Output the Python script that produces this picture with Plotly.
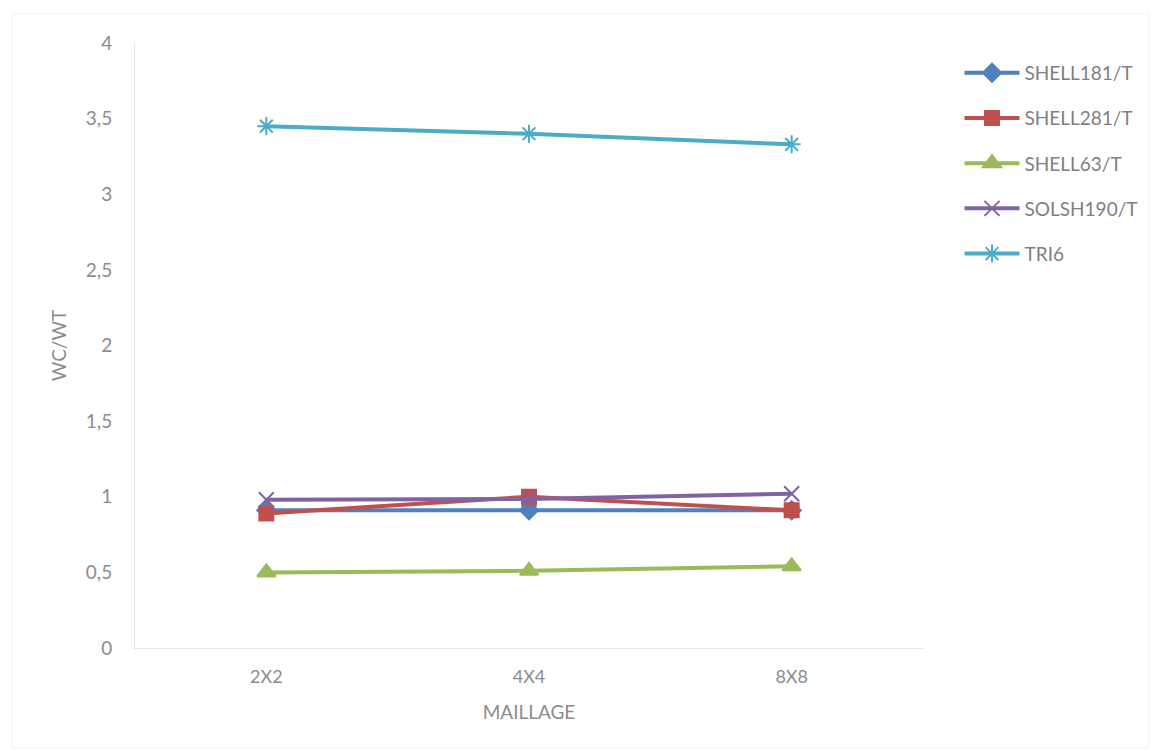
import plotly.graph_objects as go

categories = ["2X2", "4X4", "8X8"]
shell181 = [0.91, 0.91, 0.91]
shell281 = [0.89, 1.00, 0.91]
shell63 = [0.50, 0.51, 0.54]
solsh190 = [0.98, 0.985, 1.02]
tri6 = [3.45, 3.40, 3.33]

series = [
    ("SHELL181/T", shell181, "#4F81BD", "diamond", 14),
    ("SHELL281/T", shell281, "#C0504D", "square", 14),
    ("SHELL63/T", shell63, "#9BBB59", "triangle-up", 16),
    ("SOLSH190/T", solsh190, "#8064A2", "x-thin", 15),
    ("TRI6", tri6, "#4BACC6", "asterisk", 15),
]

fig = go.Figure()
for name, vals, col, sym, sz in series:
    fig.add_trace(go.Scatter(
        x=categories, y=vals, name=name, mode="lines+markers",
        legendgroup=name,
        line=dict(color=col, width=4),
        marker=dict(symbol=sym, size=sz, color=col,
                    line=dict(color=col, width=2)),
    ))

fig.update_layout(
    width=1153, height=751,
    margin=dict(l=135, r=229, t=43, b=103),
    paper_bgcolor="white", plot_bgcolor="white",
    separators=", ",
    font=dict(family="Lato", color="#7f7f7f", size=17),
    showlegend=True,
    legend=dict(x=1.045, y=0.982, xanchor="left", yanchor="top",
                font=dict(size=19, color="#7f7f7f"),
                itemwidth=55, tracegroupgap=17.5, bgcolor="rgba(0,0,0,0)"),
    xaxis=dict(
        type="category", range=[-0.5, 2.5],
        showline=True, linecolor="#e6e6e6", linewidth=1,
        showgrid=False, ticks="", zeroline=False,
        tickfont=dict(size=18, color="#8c8c8c"),
        ticklabelstandoff=12,
        title=dict(text="MAILLAGE", font=dict(size=19, color="#8c8c8c"), standoff=20),
    ),
    yaxis=dict(
        range=[0, 4], dtick=0.5, tick0=0,
        showline=True, linecolor="#e6e6e6", linewidth=1,
        showgrid=False, ticks="", zeroline=False,
        tickfont=dict(size=19, color="#8c8c8c"),
        ticklabelstandoff=18,
        title=dict(text="WC/WT", font=dict(size=19, color="#8c8c8c"), standoff=14),
    ),
    shapes=[dict(type="rect", xref="paper", yref="paper",
                 x0=-123/789, x1=(1150-135)/789, y0=-(748-648)/605, y1=(648-14)/605,
                 line=dict(color="#f0f0f0", width=1), fillcolor="rgba(0,0,0,0)", layer="below")],
)

fig.write_html("out.html")
